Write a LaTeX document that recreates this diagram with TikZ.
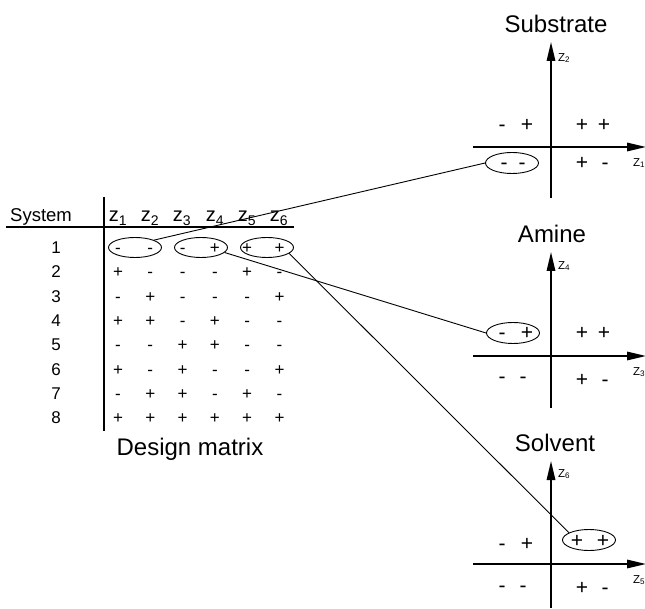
\documentclass[tikz,border=0pt]{standalone}
\usepackage{fontspec}
\setmainfont{Liberation Sans}
\usetikzlibrary{shapes.geometric,arrows.meta}
\begin{document}
\begin{tikzpicture}[x=1pt,y=-1pt,
  hdr/.style={inner sep=0pt,anchor=base,font=\fontsize{18.5}{22}\selectfont},
  zh/.style={inner sep=0pt,anchor=base,font=\fontsize{20}{22}\selectfont},
  ttl/.style={inner sep=0pt,anchor=base,font=\fontsize{24}{28}\selectfont},
  num/.style={inner sep=0pt,anchor=base,font=\fontsize{17}{19}\selectfont},
  sgn/.style={inner sep=0pt,anchor=base,font=\fontsize{17}{19}\selectfont},
  psgn/.style={inner sep=0pt,anchor=base,font=\fontsize{21}{23}\selectfont},
  oval/.style={draw,ellipse,minimum width=53pt,minimum height=20pt,inner sep=0pt,line width=0.9pt},
  poval/.style={oval,minimum height=21pt},
  axis/.style={line width=1.6pt,-{Triangle[length=19pt,width=8.5pt]}},
  rule/.style={line width=2pt},
  link/.style={line width=0.9pt},
  zl/.style={inner sep=0pt,anchor=west,font=\fontsize{11.5}{13}\selectfont}]
\useasboundingbox (0,0) rectangle (645,609);

% ---------- design matrix ----------
\coordinate (vtop) at (104,197);
\coordinate (vbot) at (104,431);
\coordinate (hl) at (6,227);
\coordinate (hr) at (294,227);
\draw[rule] (vtop) -- (vbot);
\draw[rule] (hl) -- (hr);
\node[hdr] (sys) at (41,222) {System};
\foreach \j/\x in {1/118,2/150,3/182,4/215,5/247,6/279}
  \node[zh] (z\j) at (\x,222) {z\textsubscript{\j}};
\foreach \i in {1,...,8}
  \node[num] (r\i) at (56,{253.5+24.3*(\i-1)}) {\i};
\foreach \row [count=\i] in {{-,-,-,+,+,+},{+,-,-,-,+,-},{-,+,-,-,-,+},{+,+,-,+,-,-},{-,-,+,+,-,-},{+,-,+,-,-,+},{-,+,+,-,+,-},{+,+,+,+,+,+}}
  \foreach \s [count=\j] in \row
    \node[sgn] (m\i\j) at ({118+32.3*(\j-1)},{253.5+24.3*(\i-1)}) {\s};
\node[ttl] (dm) at (190,455) {Design matrix};
\node[oval] (t1) at (135,247.5) {};
\node[oval] (t2) at (201,247.5) {};
\node[oval] (t3) at (267,247.5) {};

% ---------- Substrate ----------
\node[ttl] (st) at (556,33) {Substrate};
\coordinate (s-vb) at (551,198);
\coordinate (s-vt) at (551,42);
\coordinate (s-hl) at (473,147);
\coordinate (s-hr) at (646,147);
\draw[axis] (s-vb) -- (s-vt);
\draw[axis] (s-hl) -- (s-hr);
\node[zl] (s-z2) at (558,58) {Z\textsubscript{2}};
\node[zl] (s-z1) at (633,163) {Z\textsubscript{1}};
\node[psgn] (s-a) at (502,132) {-};
\node[psgn] (s-b) at (527,132) {+};
\node[psgn] (s-c) at (582,132) {+};
\node[psgn] (s-d) at (604,132) {+};
\node[psgn] (s-e) at (504,170) {-};
\node[psgn] (s-f) at (522,170) {-};
\node[psgn] (s-g) at (582,170) {+};
\node[psgn] (s-h) at (605,170) {-};
\node[poval] (so) at (512,163) {};

% ---------- Amine ----------
\node[ttl] (at) at (552,243) {Amine};
\coordinate (a-vb) at (551,408);
\coordinate (a-vt) at (551,252);
\coordinate (a-hl) at (473,356);
\coordinate (a-hr) at (646,356);
\draw[axis] (a-vb) -- (a-vt);
\draw[axis] (a-hl) -- (a-hr);
\node[zl] (a-z4) at (558,266) {Z\textsubscript{4}};
\node[zl] (a-z3) at (633,372) {Z\textsubscript{3}};
\node[psgn] (a-a) at (502,340) {-};
\node[psgn] (a-b) at (527,340) {+};
\node[psgn] (a-c) at (582,340) {+};
\node[psgn] (a-d) at (604,340) {+};
\node[psgn] (a-e) at (502,384) {-};
\node[psgn] (a-f) at (523,384) {-};
\node[psgn] (a-g) at (582,387) {+};
\node[psgn] (a-h) at (605,387) {-};
\node[poval] (ao) at (513,333) {};

% ---------- Solvent ----------
\node[ttl] (vt) at (555,451) {Solvent};
\coordinate (v-vb) at (551,608);
\coordinate (v-vt) at (551,461);
\coordinate (v-hl) at (473,564);
\coordinate (v-hr) at (646,564);
\draw[axis] (v-vb) -- (v-vt);
\draw[axis] (v-hl) -- (v-hr);
\node[zl] (v-z6) at (558,474) {Z\textsubscript{6}};
\node[zl] (v-z5) at (633,580) {Z\textsubscript{5}};
\node[psgn] (v-a) at (502,550) {-};
\node[psgn] (v-b) at (527,550) {+};
\node[psgn] (v-c) at (577,547) {+};
\node[psgn] (v-d) at (603,547) {+};
\node[psgn] (v-e) at (502,592) {-};
\node[psgn] (v-f) at (523,592) {-};
\node[psgn] (v-g) at (582,594) {+};
\node[psgn] (v-h) at (605,594) {-};
\node[poval] (vo) at (589,540) {};

% ---------- connectors ----------
\draw[link] (t1.north east) -- (so.west);
\draw[link] (t2.-12) -- (ao.west);
\draw[link] (t3.-15) -- (vo.160);
\end{tikzpicture}
\end{document}
